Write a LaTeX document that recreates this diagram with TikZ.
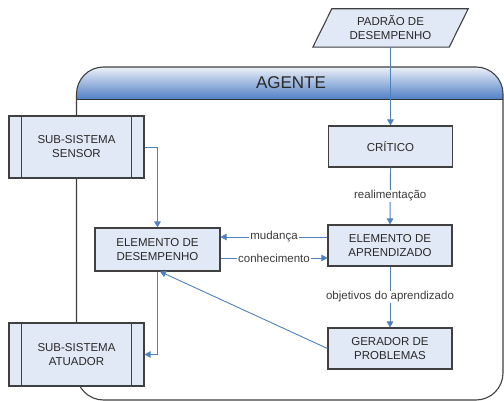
\documentclass[tikz,border=0pt]{standalone}
\usepackage{fontspec}
\setmainfont{Liberation Sans}
\usetikzlibrary{arrows.meta,calc,backgrounds}
\definecolor{boxfill}{RGB}{226,233,246}
\definecolor{boxline}{RGB}{64,64,64}
\definecolor{arrblue}{RGB}{79,129,189}
\definecolor{hdrtop}{RGB}{236,240,247}
\definecolor{hdrmid}{RGB}{170,192,228}
\definecolor{hdrbot}{RGB}{78,126,198}
\definecolor{txt}{RGB}{40,40,40}
\definecolor{lbl}{RGB}{60,60,60}
\tikzset{
  boxfont/.style={font=\fontsize{11.5}{14}\selectfont, text=txt, align=center},
  stepbox/.style={boxfont, draw=boxline, line width=1.1pt, fill=boxfill, minimum width=124pt, minimum height=41pt, inner sep=0pt},
  subbox/.style={boxfont, draw=boxline, line width=1.1pt, fill=boxfill, minimum width=135pt, minimum height=62pt, inner sep=0pt},
  flow/.style={draw=arrblue, line width=0.9pt, -{Triangle[length=6pt,width=6.5pt]}},
  lab/.style={font=\fontsize{11.5}{14}\selectfont, text=lbl, fill=white, inner sep=1pt},
}
\begin{document}
\begin{tikzpicture}[x=1pt,y=-1pt]
\useasboundingbox (0,0) rectangle (504,401);
% container
\fill[white, rounded corners=27pt] (76.5,67) rectangle (503,400);
\begin{scope}
  \clip[rounded corners=27pt] (76.5,67) rectangle (503,400);
  \shade[top color=hdrtop, middle color=hdrmid, bottom color=hdrbot] (76.5,67) rectangle (503,99.5);
\end{scope}
\draw[boxline, line width=1.1pt, rounded corners=27pt] (76.5,67) rectangle (503,400);
\draw[boxline!80!black, line width=1.1pt] (76.5,99.5) -- (503,99.5);
\node[font=\fontsize{17}{20}\selectfont, text=txt] (agente) at (291,83) {AGENTE};

% input parallelogram
\node[boxfont, minimum width=136pt, minimum height=38pt, inner sep=0pt] (padrao) at (390.5,28) {PADRÃO DE\\DESEMPENHO};
\begin{scope}[on background layer]
  \draw[boxline, line width=1.1pt, fill=boxfill]
    ([xshift=-9.5pt]padrao.south west) -- ([xshift=-9.5pt]padrao.south east) --
    ([xshift=9.5pt]padrao.north east) -- ([xshift=9.5pt]padrao.north west) -- cycle;
\end{scope}

% boxes
\node[stepbox] (critico) at (390.5,146.5) {CRÍTICO};
\node[stepbox] (aprend) at (390,245.5) {ELEMENTO DE\\APRENDIZADO};
\node[stepbox] (gerador) at (390,348.5) {GERADOR DE\\PROBLEMAS};
\node[stepbox, minimum width=125pt, minimum height=43pt] (desemp) at (157.5,249.5) {ELEMENTO DE\\DESEMPENHO};
\node[subbox] (sensor) at (76.5,147) {SUB-SISTEMA\\SENSOR};
\node[subbox, minimum height=63pt] (atuador) at (76.5,354.5) {SUB-SISTEMA\\ATUADOR};
\foreach \n in {sensor,atuador}{
  \draw[boxline, line width=1.1pt] ([xshift=13pt]\n.north west) -- ([xshift=13pt]\n.south west);
  \draw[boxline, line width=1.1pt] ([xshift=-13pt]\n.north east) -- ([xshift=-13pt]\n.south east);
}

% connectors
\draw[flow] (padrao.south) -- (critico.north);
\draw[flow] (critico.south) -- node[lab] {realimentação} (aprend.north);
\draw[flow] (aprend.south) -- node[lab] {objetivos do aprendizado} (gerador.north);
\draw[flow] ($(aprend.west)+(0,-8.5)$) -- node[lab] {mudança} ($(desemp.east)+(0,-12.5)$);
\draw[flow] ($(desemp.east)+(0,8.5)$) -- node[lab] {conhecimento} ($(aprend.west)+(0,12.5)$);
\draw[flow] (sensor.east) -| (desemp.north);
\draw[flow] (desemp.south) |- (atuador.east);
\draw[flow] (gerador.west) -- ($(desemp.south)+(2.5,0)$);
\end{tikzpicture}
\end{document}
